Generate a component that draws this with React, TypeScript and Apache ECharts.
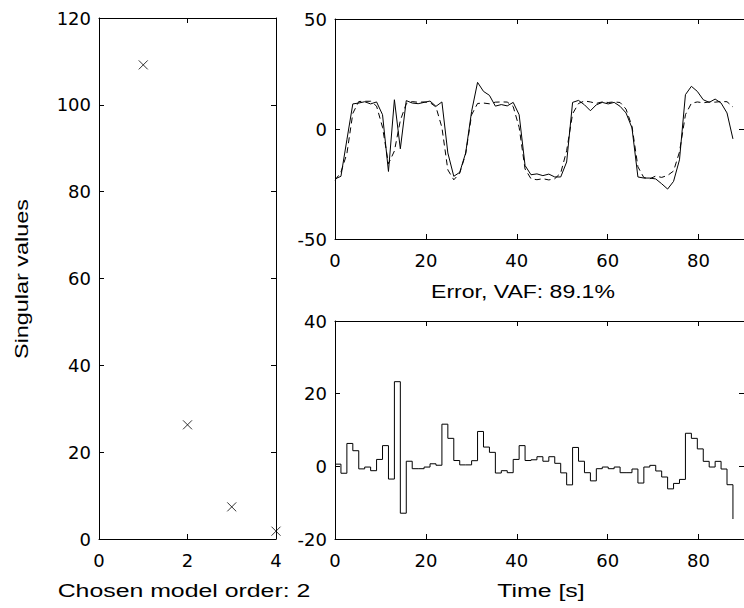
import React, { useEffect, useRef } from "react";
import * as echarts from "echarts";

// Singular values vs model order
const SV_ORDER = [1, 2, 3, 4];
const SV_VALUES = [109.2, 26.3, 7.4, 1.8];

// Sample period of the time series [s]
const TS = 1.307;

// Measured output (solid)
const MEASURED = [
  -22.7, -21.5, -4.9, 11.4, 11.8, 12.4, 11.4, 12.3, 6.5, -19.3,
  13.3, -9.0, 12.9, 11.8, 11.5, 12.1, 12.7, 10.3, 12.3, -10.9,
  -21.5, -19.7, -10.9, 8.0, 21.2, 17.1, 15.3, 10.4, 11.1, 10.5,
  12.1, 6.5, -16.6, -20.8, -20.4, -21.2, -20.5, -21.8, -21.8, -15.0,
  12.1, 13.0, 11.0, 8.3, 11.0, 12.1, 11.4, 12.1, 10.3, 7.3,
  0.5, -21.8, -22.3, -22.3, -22.7, -24.9, -27.3, -23.8, -14.0, 15.6,
  19.4, 17.1, 13.3, 12.1, 13.6, 11.8, 7.3, -4.5,
];

// Model output (dashed)
const MODEL = [
  -23.3, -19.6, -11.2, 7.1, 12.5, 12.6, 12.6, 10.4, 0.8, -15.8,
  -10.0, 3.9, 11.5, 12.45, 12.15, 12.3, 12.0, 10.0, 0.7, -18.6,
  -23.1, -20.1, -11.3, 6.45, 11.6, 11.8, 11.45, 12.2, 12.3, 12.25,
  10.2, 0.8, -18.2, -22.6, -23.05, -22.6, -23.15, -22.6, -20.0, -9.9,
  6.9, 11.6, 12.75, 12.3, 11.65, 12.3, 12.05, 12.3, 12.05, 9.05,
  1.24, -17.2, -22.1, -22.6, -21.4, -22.0, -21.1, -19.1, -10.4, 6.5,
  11.7, 12.3, 11.9, 12.3, 12.2, 12.5, 12.4, 10.0,
];

// Prediction error (stairs)
const ERROR = [
  0.6, -1.9, 6.3, 4.3, -0.7, -0.2, -1.2, 1.9, 5.7, -3.5,
  23.3, -12.9, 1.4, -0.65, -0.65, -0.2, 0.7, 0.3, 11.6, 7.7,
  1.6, 0.4, 0.4, 1.55, 9.6, 5.3, 3.85, -1.84, -1.2, -1.75,
  1.9, 5.7, 1.6, 1.8, 2.65, 1.4, 2.65, 0.83, -1.8, -5.1,
  5.2, 1.4, -1.75, -4.0, -0.65, -0.19, -0.65, -0.19, -1.75, -1.75,
  -0.74, -4.6, -0.19, 0.27, -1.28, -2.94, -6.2, -4.7, -3.6, 9.1,
  7.7, 4.8, 1.37, -0.19, 1.37, -0.74, -5.06, -14.5,
];

const TITLE_ORDER = "Chosen model order: 2";
const TITLE_SV = "Singular values";
const TITLE_ERR = "Error, VAF: 89.1%";
const TITLE_TIME = "Time [s]";

const TICK_FONT = "DejaVu Sans";
const TITLE_FONT = "Liberation Sans";

function makeAxisPair(
  kind: "x" | "y",
  gridIndex: number,
  min: number,
  max: number,
  interval: number,
  hideMax: boolean
) {
  const main: any = {
    type: "value",
    gridIndex,
    min,
    max,
    interval,
    position: kind === "x" ? "bottom" : "left",
    axisLine: { show: true, onZero: false, lineStyle: { color: "#000", width: 1 } },
    axisTick: { show: true, inside: true, length: 5, lineStyle: { color: "#000" } },
    splitLine: { show: false },
    axisLabel: {
      show: true,
      color: "#000",
      fontFamily: TICK_FONT,
      fontSize: 18,
      margin: kind === "x" ? 12 : 8,
      showMaxLabel: hideMax ? false : true,
    },
  };
  const second: any = {
    type: "value",
    gridIndex,
    min,
    max,
    interval,
    position: kind === "x" ? "top" : "right",
    axisLine: { show: true, onZero: false, lineStyle: { color: "#000", width: 1 } },
    axisTick: { show: true, inside: true, length: 5, lineStyle: { color: "#000" } },
    splitLine: { show: false },
    axisLabel: { show: false },
  };
  return [main, second];
}

export default function App() {
  const ref = useRef<HTMLDivElement>(null);

  useEffect(() => {
    if (!ref.current) return;
    const chart = echarts.init(ref.current, undefined, { renderer: "svg" });

    const times = ERROR.map((_, k) => k * TS);
    const measured = MEASURED.map((v, k) => [times[k], v]);
    const model = MODEL.map((v, k) => [times[k], v]);
    const err = ERROR.map((v, k) => [times[k], v]);
    const sv = SV_ORDER.map((o, k) => [o, SV_VALUES[k]]);

    const xAxes = [
      ...makeAxisPair("x", 0, 0, 4, 2, false),
      ...makeAxisPair("x", 1, 0, 90, 20, true),
      ...makeAxisPair("x", 2, 0, 90, 20, true),
    ];
    const yAxes = [
      ...makeAxisPair("y", 0, 0, 120, 20, false),
      ...makeAxisPair("y", 1, -50, 50, 50, false),
      ...makeAxisPair("y", 2, -20, 40, 20, false),
    ];

    const titleStyle = (text: string) => ({
      text,
      fill: "#000",
      font: `18px "${TITLE_FONT}"`,
      textAlign: "center",
      textVerticalAlign: "middle",
    });

    chart.setOption({
      animation: false,
      backgroundColor: "#fff",
      grid: [
        { left: 99, top: 18, width: 177, height: 521 },
        { left: 335, top: 19, width: 412.7, height: 220 },
        { left: 335, top: 321, width: 412.7, height: 218 },
      ],
      xAxis: xAxes,
      yAxis: yAxes,
      series: [
        {
          type: "scatter",
          xAxisIndex: 0,
          yAxisIndex: 0,
          data: sv,
          symbol: "path://M0 0L10 10M10 0L0 10",
          symbolSize: 9,
          clip: false,
          itemStyle: { color: "rgba(0,0,0,0)", borderColor: "#000", borderWidth: 1 },
        },
        {
          type: "line",
          xAxisIndex: 2,
          yAxisIndex: 2,
          data: measured,
          showSymbol: false,
          lineStyle: { color: "#000", width: 1 },
        },
        {
          type: "line",
          xAxisIndex: 2,
          yAxisIndex: 2,
          data: model,
          showSymbol: false,
          lineStyle: { color: "#000", width: 1, type: [6, 4] },
        },
        {
          type: "line",
          xAxisIndex: 4,
          yAxisIndex: 4,
          data: err,
          step: "end",
          showSymbol: false,
          lineStyle: { color: "#000", width: 1 },
        },
      ],
      graphic: [
        {
          type: "text",
          x: 22,
          y: 279,
          rotation: Math.PI / 2,
          scaleX: 1.3,
          style: titleStyle(TITLE_SV),
        },
        { type: "text", x: 184, y: 591, scaleX: 1.38, style: titleStyle(TITLE_ORDER) },
        { type: "text", x: 523, y: 291, scaleX: 1.28, style: titleStyle(TITLE_ERR) },
        { type: "text", x: 541, y: 591, scaleX: 1.38, style: titleStyle(TITLE_TIME) },
      ],
    });

    return () => chart.dispose();
  }, []);

  return (
    <div
      ref={ref}
      style={{ position: "fixed", left: 0, top: 0, width: 744, height: 608, background: "#fff" }}
    />
  );
}
